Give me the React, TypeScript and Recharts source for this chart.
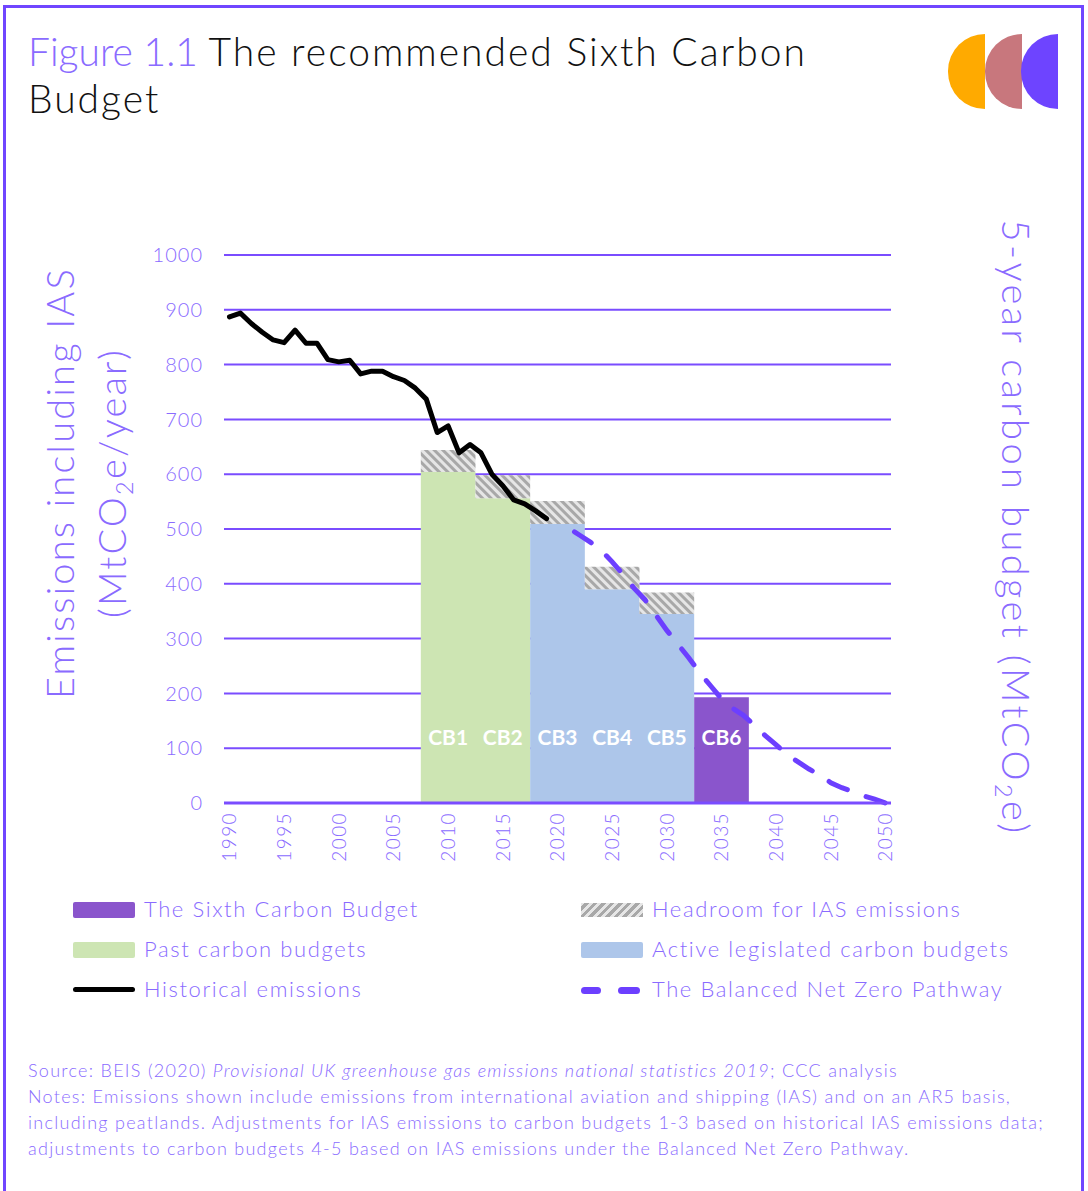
import React from 'react'
import { ComposedChart, Area, Line, XAxis, YAxis, CartesianGrid, LabelList } from 'recharts'

// Historical UK emissions including IAS, MtCO2e/year
const historicalYears = [1990, 1991, 1992, 1993, 1994, 1995, 1996, 1997, 1998, 1999, 2000, 2001, 2002, 2003, 2004, 2005, 2006, 2007, 2008, 2009, 2010, 2011, 2012, 2013, 2014, 2015, 2016, 2017, 2018, 2019]
const historicalEmissions = [887, 894, 875, 859, 845, 840, 863, 839, 839, 809, 805, 808, 783, 788, 788, 778, 771, 757, 737, 676, 688, 639, 654, 639, 600, 579, 553, 546, 533, 519]

// Balanced Net Zero Pathway, MtCO2e/year
const pathwayYears = [2020, 2021, 2022, 2023, 2024, 2025, 2026, 2027, 2028, 2029, 2030, 2031, 2032, 2033, 2034, 2035, 2036, 2037, 2038, 2039, 2040, 2041, 2042, 2043, 2044, 2045, 2046, 2047, 2048, 2049, 2050]
const pathwayEmissions = [514, 502, 489, 476, 461, 440, 417, 392, 371, 343, 315, 290, 265, 238, 214, 190, 173, 160, 142, 123, 106, 88, 75, 62, 51, 37, 28, 21, 13, 7, 0]

// Carbon budgets (5-year periods), shown as annual averages
const budgetNames = ['CB1', 'CB2', 'CB3', 'CB4', 'CB5', 'CB6']
const budgetFirstYears = [2008, 2013, 2018, 2023, 2028, 2033]
const budgetGroups = ['past', 'past', 'active', 'active', 'active', 'sixth']
const budgetAnnual = [604, 556, 509, 390, 345, 193]
const headroomAnnual = [40, 42, 42, 41, 39, 0]

const leftTicks = [0, 100, 200, 300, 400, 500, 600, 700, 800, 900, 1000]
const rightTicks = [0, 500, 1000, 1500, 2000, 2500, 3000, 3500, 4000, 4500, 5000]
const yearLabels = [1990, 1995, 2000, 2005, 2010, 2015, 2020, 2025, 2030, 2035, 2040, 2045, 2050]

const FONT = 'Lato, "Noto Sans", sans-serif'
const PURPLE_TEXT = '#8a6bff'
const PURPLE_LINE = '#7a4cff'
const GREEN = '#cde5b3'
const BLUE = '#adc6ea'
const SIXTH = '#8a55cc'
const DASH = '#6c3fff'
const LABEL_LEVEL = 120

// category boundaries (Excel style: ticks between years)
const firstYear = 1990
const lastYear = 2050
const boundaries: number[] = []
for (let y = firstYear; y <= lastYear + 1; y++) boundaries.push(y - 0.5)

type Row = { year: number; [k: string]: any }
const rowMap = new Map<number, Row>()
const getRow = (year: number) => {
  if (!rowMap.has(year)) rowMap.set(year, { year })
  return rowMap.get(year)!
}
historicalYears.forEach((y, i) => (getRow(y).historical = historicalEmissions[i]))
pathwayYears.forEach((y, i) => (getRow(y).pathway = pathwayEmissions[i]))
budgetNames.forEach((name, i) => {
  const start = budgetFirstYears[i] - 0.5
  const end = start + 5
  const g = budgetGroups[i]
  getRow(start)[g] = budgetAnnual[i]
  const last = i === budgetNames.length - 1 || budgetGroups[i + 1] !== g
  if (last) getRow(end)[g] = budgetAnnual[i]
  if (headroomAnnual[i] > 0) {
    getRow(start).headroom = [budgetAnnual[i], budgetAnnual[i] + headroomAnnual[i]]
    if (i + 1 < budgetNames.length && headroomAnnual[i + 1] === 0) {
      getRow(end).headroom = [budgetAnnual[i], budgetAnnual[i] + headroomAnnual[i]]
    }
  }
  const mid = getRow(budgetFirstYears[i] + 2)
  mid.cbName = name
  mid.cbY = LABEL_LEVEL
})
const data = Array.from(rowMap.values()).sort((a, b) => a.year - b.year)

const YearTick = (props: any) => {
  const { x, y, payload } = props
  return (
    <text x={x} y={y} transform={`rotate(-90, ${x}, ${y})`} textAnchor="end" dy="0.36em"
      fill={PURPLE_TEXT} fontSize={19} letterSpacing={1.4} fontFamily={FONT} fontWeight={300}>
      {payload.value}
    </text>
  )
}

const CbLabel = (props: any) => {
  const { x, y, value } = props
  if (!value || y == null) return null
  return (
    <text x={x} y={y} textAnchor="middle" dy="0.35em" fill="#ffffff" fontSize={21}
      fontWeight={700} fontFamily={FONT}>{value}</text>
  )
}

const Swatch = ({ kind }: { kind: string }) => {
  const base: React.CSSProperties = { position: 'absolute', left: 0, width: 62 }
  if (kind === 'line') return <div style={{ ...base, top: -3, height: 5, background: '#000', borderRadius: 3 }} />
  if (kind === 'dash') return (
    <>
      <div style={{ ...base, left: 0, width: 20, top: -3.5, height: 7, background: DASH, borderRadius: 4 }} />
      <div style={{ ...base, left: 37, width: 22, top: -3.5, height: 7, background: DASH, borderRadius: 4 }} />
    </>
  )
  if (kind === 'hatch') return <div style={{ ...base, top: -7, height: 14, background: 'repeating-linear-gradient(-45deg, #a8a8a8 0px, #a8a8a8 3px, #e6e6e6 3px, #e6e6e6 6px)' }} />
  return <div style={{ ...base, top: -8, height: 16, background: kind, borderRadius: 2 }} />
}

const LegendItem = ({ left, top, kind, label }: { left: number; top: number; kind: string; label: string }) => (
  <div style={{ position: 'absolute', left, top }}>
    <Swatch kind={kind} />
    <div style={{ position: 'absolute', left: 71, top: -15, whiteSpace: 'nowrap', fontSize: 22, letterSpacing: 1.6, color: PURPLE_TEXT, fontWeight: 300, lineHeight: '28px' }}>{label}</div>
  </div>
)

const Sub = ({ children }: { children: React.ReactNode }) => (
  <span style={{ fontSize: '0.62em', verticalAlign: '-0.3em' }}>{children}</span>
)

export default function App() {
  return (
    <div style={{ position: 'absolute', left: 0, top: 0, width: 1088, height: 1191, overflow: 'hidden', background: '#fff', fontFamily: FONT }}>
      <div style={{ position: 'absolute', left: 3, top: 5, width: 1081, height: 1220, boxSizing: 'border-box', border: '3px solid #7046ff' }} />

      {/* title */}
      <div style={{ position: 'absolute', left: 28, top: 28, fontSize: 39, fontWeight: 300, lineHeight: '47px', color: '#111', whiteSpace: 'nowrap' }}>
        <span style={{ color: PURPLE_TEXT }}>Figure 1.1</span>{' '}
        <span style={{ letterSpacing: 2 }}>The recommended Sixth Carbon</span><br /><span style={{ letterSpacing: 2 }}>Budget</span>
      </div>

      {/* logo */}
      {['#ffaa00', '#c8777d', '#6e44ff'].map((c, i) => (
        <div key={c} style={{ position: 'absolute', left: 948 + i * 36.5, top: 34, width: 37, height: 75, background: c, borderRadius: '37px 0 0 37px' }} />
      ))}

      {/* axis titles */}
      <div style={{ position: 'absolute', left: 93 - 300, top: 483 - 60, width: 600, height: 120, transform: 'rotate(-90deg)', textAlign: 'center', color: PURPLE_TEXT, fontSize: 38, letterSpacing: 2.2, fontWeight: 300, lineHeight: '52px', whiteSpace: 'nowrap' }}>
        Emissions including IAS<br />(MtCO<Sub>2</Sub>e/year)
      </div>
      <div style={{ position: 'absolute', left: 1017 - 400, top: 528 - 30, width: 800, height: 60, transform: 'rotate(90deg)', textAlign: 'center', color: PURPLE_TEXT, fontSize: 38, letterSpacing: 3.4, fontWeight: 300, lineHeight: '60px', whiteSpace: 'nowrap' }}>
        5-year carbon budget (MtCO<Sub>2</Sub>e)
      </div>

      <div style={{ position: 'absolute', left: 0, top: 230 }}>
        <ComposedChart width={1088} height={650} data={data} margin={{ top: 25, right: 117, bottom: 16, left: 154 }}>
          <defs>
            <pattern id="hatch" patternUnits="userSpaceOnUse" width="6" height="6" patternTransform="rotate(-45)">
              <rect width="6" height="6" fill="#e6e6e6" />
              <rect width="3" height="6" fill="#a8a8a8" />
            </pattern>
          </defs>
          <CartesianGrid xAxisId="grid" yAxisId="left" vertical={false} stroke={PURPLE_LINE} strokeWidth={2} />
          <XAxis xAxisId="grid" dataKey="year" type="number" domain={[firstYear - 0.5, lastYear + 0.5]} ticks={boundaries}
            interval={0} tick={false} tickSize={7} height={1} tickLine={{ stroke: PURPLE_LINE, strokeWidth: 1.5 }}
            axisLine={{ stroke: PURPLE_LINE, strokeWidth: 3 }} />
          <XAxis xAxisId="years" dataKey="year" type="number" domain={[firstYear - 0.5, lastYear + 0.5]} ticks={yearLabels}
            interval={0} tick={<YearTick />} tickLine={false} axisLine={false} height={60} />
          <YAxis yAxisId="left" domain={[0, 1000]} ticks={leftTicks} interval={0} width={70} axisLine={false} tickLine={false}
            tickMargin={15} tick={{ fill: PURPLE_TEXT, fontSize: 20, letterSpacing: 1, fontFamily: FONT, fontWeight: 300 }} />
          <YAxis yAxisId="right" orientation="right" domain={[0, 5000]} ticks={rightTicks} interval={0} width={80} axisLine={false}
            tickLine={false} tickMargin={16} tickFormatter={(v: number) => v.toLocaleString('en-US')}
            tick={{ fill: PURPLE_TEXT, fontSize: 20, letterSpacing: 1.3, fontFamily: FONT, fontWeight: 300 }} />

          <Area xAxisId="grid" yAxisId="left" dataKey="past" type="stepAfter" connectNulls fill={GREEN} fillOpacity={1} stroke="none" isAnimationActive={false} />
          <Area xAxisId="grid" yAxisId="left" dataKey="active" type="stepAfter" connectNulls fill={BLUE} fillOpacity={1} stroke="none" isAnimationActive={false} />
          <Area xAxisId="grid" yAxisId="left" dataKey="sixth" type="stepAfter" connectNulls fill={SIXTH} fillOpacity={1} stroke="none" isAnimationActive={false} />
          <Area xAxisId="grid" yAxisId="left" dataKey="headroom" type="stepAfter" connectNulls fill="url(#hatch)" fillOpacity={1} stroke="none" isAnimationActive={false} />

          <Line xAxisId="grid" yAxisId="left" dataKey="cbY" stroke="none" dot={false} activeDot={false} isAnimationActive={false}>
            <LabelList dataKey="cbName" content={<CbLabel />} />
          </Line>

          <Line xAxisId="grid" yAxisId="left" dataKey="historical" type="linear" connectNulls stroke="#000" strokeWidth={5}
            strokeLinejoin="round" strokeLinecap="round" dot={false} activeDot={false} isAnimationActive={false} />
          <Line xAxisId="grid" yAxisId="left" dataKey="pathway" type="linear" connectNulls stroke={DASH} strokeWidth={5}
            strokeDasharray="20 20" strokeDashoffset={20} strokeLinecap="round" dot={false} activeDot={false} isAnimationActive={false} />
        </ComposedChart>
      </div>

      {/* legend */}
      <LegendItem left={73} top={910} kind={SIXTH} label="The Sixth Carbon Budget" />
      <LegendItem left={73} top={950} kind={GREEN} label="Past carbon budgets" />
      <LegendItem left={73} top={990} kind="line" label="Historical emissions" />
      <LegendItem left={581} top={910} kind="hatch" label="Headroom for IAS emissions" />
      <LegendItem left={581} top={950} kind={BLUE} label="Active legislated carbon budgets" />
      <LegendItem left={581} top={990} kind="dash" label="The Balanced Net Zero Pathway" />

      {/* source & notes */}
      <div style={{ position: 'absolute', left: 28, top: 1057, fontSize: 18, letterSpacing: 1.28, lineHeight: '26px', color: PURPLE_TEXT, fontWeight: 300, whiteSpace: 'nowrap' }}>
        <div>Source: BEIS (2020) <i>Provisional UK greenhouse gas emissions national statistics 2019</i>; CCC analysis</div>
        <div>Notes: Emissions shown include emissions from international aviation and shipping (IAS) and on an AR5 basis,</div>
        <div>including peatlands. Adjustments for IAS emissions to carbon budgets 1-3 based on historical IAS emissions data;</div>
        <div>adjustments to carbon budgets 4-5 based on IAS emissions under the Balanced Net Zero Pathway.</div>
      </div>
    </div>
  )
}
